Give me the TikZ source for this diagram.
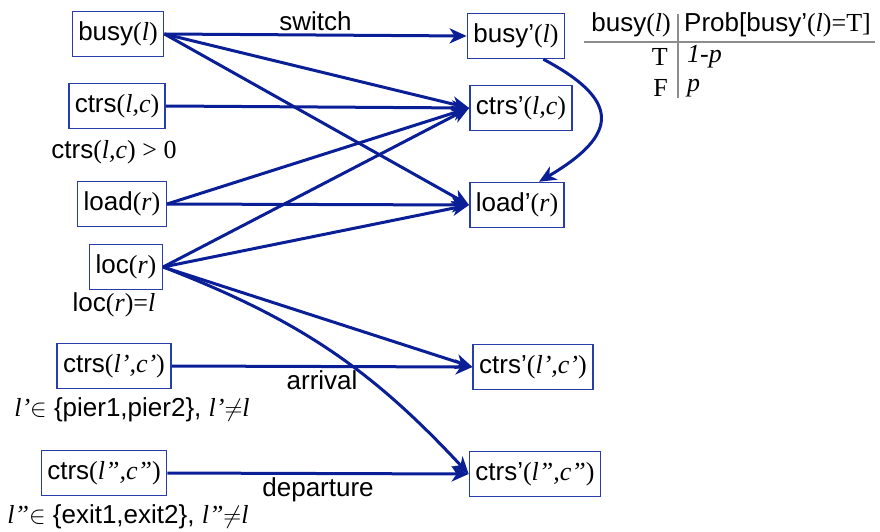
\documentclass[tikz,border=0pt]{standalone}
\usepackage{fontspec}
\setmainfont{Liberation Sans}
\newfontfamily\tms{Liberation Serif}
\usepackage{tikz}
\usetikzlibrary{arrows.meta,positioning}
\definecolor{kantenblau}{RGB}{10,30,150}
\definecolor{rahmenblau}{RGB}{40,60,170}
\definecolor{tabgrau}{RGB}{140,140,140}
\tikzset{
  var/.style={rectangle, draw=rahmenblau, line width=1.5pt, minimum height=45pt, inner xsep=6pt, inner ysep=0pt, fill=white, font=\fontsize{26}{31}\selectfont},
  bed/.style={font=\fontsize{26}{31}\selectfont, inner sep=0pt},
  kante/.style={draw=kantenblau, line width=3pt, -{Stealth[length=17pt,width=15pt,inset=5pt]}},
  kantenlabel/.style={font=\fontsize{26}{31}\selectfont, inner sep=3pt},
  tabtext/.style={font=\fontsize{26}{31}\selectfont, inner sep=0pt},
  tablinie/.style={draw=tabgrau, line width=2pt}
}
\newcommand{\vparen}[1]{{\tms(\textit{#1})}}
\newcommand{\tvar}[1]{{\tms\itshape #1}}

\begin{document}
\begin{tikzpicture}[x=1pt, y=1pt]
\useasboundingbox (0,0) rectangle (880,-532);

% linke Spalte
\node[var] (busy) at (118,-34) {busy\vparen{l}};
\node[var] (ctrs) at (117,-106) {ctrs\vparen{l,c}};
\node[var] (load) at (122,-204) {load\vparen{r}};
\node[var] (loc) at (126,-267) {loc\vparen{r}};
\node[var] (ctrsp) at (114,-366) {ctrs\vparen{l’,c’}};
\node[var] (ctrspp) at (104,-473) {ctrs\vparen{l”,c”}};

\node[bed] (bedctrs) at (114,-152) {ctrs{\tms(\textit{l,c}) > 0}};
\node[bed] (bedloc) at (114,-305) {loc{\tms(\textit{r})=\textit{l}}};
\node[bed] (bedpier) at (132,-410) {\tvar{l’}\(\in\) \{pier1,pier2\}, \tvar{l’}\(\neq\)\tvar{l}};
\node[bed] (bedexit) at (128,-517) {\tvar{l”}\(\in\) \{exit1,exit2\}, \tvar{l”}\(\neq\)\tvar{l}};

% rechte Spalte
\node[var] (busyn) at (516,-36) {busy’\vparen{l}};
\node[var] (ctrsn) at (521,-108) {ctrs’\vparen{l,c}};
\node[var] (loadn) at (517,-205) {load’\vparen{r}};
\node[var] (ctrspn) at (533,-367) {ctrs’\vparen{l’,c’}};
\node[var] (ctrsppn) at (535,-474) {ctrs’\vparen{l”,c”}};

% Tabelle
\node[tabtext, anchor=east] (tkopfa) at (671,-25) {busy\vparen{l}};
\node[tabtext, anchor=west] (tkopfb) at (684,-25) {Prob[busy’{\tms(\textit{l})=T]}};
\node[tabtext, anchor=east] (tzeilet) at (668,-57) {\tms T};
\node[tabtext, anchor=west] (twertt) at (687,-57) {\tvar{1-p}};
\node[tabtext, anchor=east] (tzeilef) at (668,-88) {\tms F};
\node[tabtext, anchor=west] (twertf) at (687,-88) {\tvar{p}};
\draw[tablinie] (584,-42) -- (875,-42);
\draw[tablinie] (678,-14) -- (678,-98);

\draw[kante] (busy.east) -- node[kantenlabel, above] (lswitch) {switch} (busyn.west);
\draw[kante] (busy.east) -- (ctrsn.west);
\draw[kante] (busy.east) -- (loadn.west);
\draw[kante] (ctrs.east) -- (ctrsn.west);
\draw[kante] (load.east) -- (ctrsn.west);
\draw[kante] (load.east) -- (loadn.west);
\draw[kante] (loc.east) -- (ctrsn.west);
\draw[kante] (loc.east) -- (loadn.west);
\draw[kante] (loc.east) -- (ctrspn.west);
\draw[kante] (loc.east) to[bend left=13] (ctrsppn.west);
\draw[kante] (ctrsp.east) -- node[kantenlabel, below] (larrival) {arrival} (ctrspn.west);
\draw[kante] (ctrspp.east) -- node[kantenlabel, below] (ldeparture) {departure} (ctrsppn.west);
\draw[kante] ([xshift=-22pt]busyn.south east) .. controls (620,-100) and (620,-134) .. ([xshift=-26pt]loadn.north east);

\end{tikzpicture}
\end{document}
